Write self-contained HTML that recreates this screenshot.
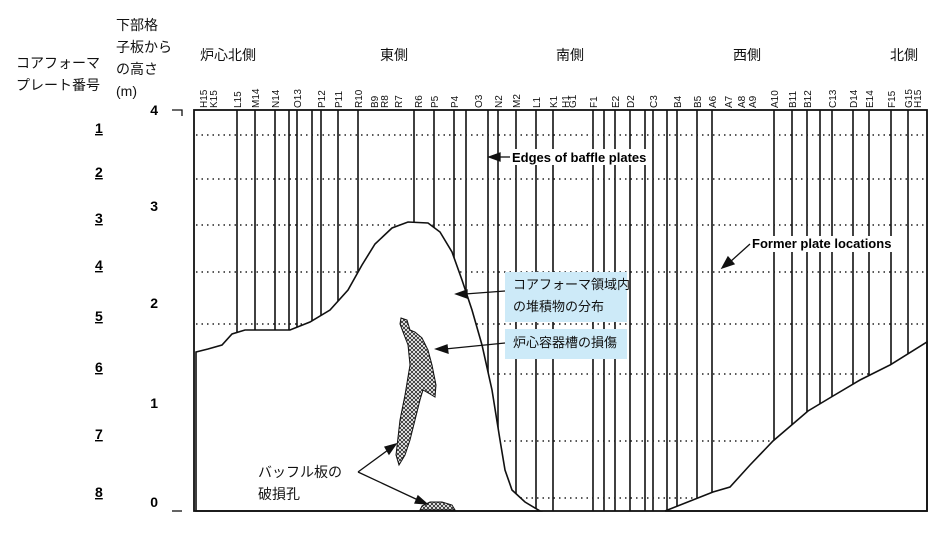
<!DOCTYPE html>
<html><head><meta charset="utf-8"><style>
body{margin:0;background:#fff;width:949px;height:540px;overflow:hidden;font-family:"Liberation Sans","Noto Sans CJK JP",sans-serif;}
.t{position:absolute;font-size:14px;line-height:22px;color:#111;white-space:nowrap;z-index:2}
.box{position:absolute;background:#cdeaf8;font-size:13px;line-height:22px;padding:0 0 0 8px;color:#111;white-space:nowrap;z-index:2}
svg{z-index:1}
</style></head><body>
<svg width="949" height="540" style="position:absolute;left:0;top:0" id="s" font-family="Liberation Sans, sans-serif">
<defs><pattern id="h" width="4" height="4" patternUnits="userSpaceOnUse"><path d="M0 0L4 4M4 0L0 4" stroke="#222" stroke-width="0.8"/></pattern></defs>
<g id="lines" stroke="#111" stroke-width="1.6"></g>
<g id="dots" stroke="#222" stroke-width="1.5" stroke-dasharray="1.5 4"></g>
<path d="M196 352 L208 349 L222 345 L232 334 L245 330 L290 330 L310 322 L330 310 L348 290 L362 265 L375 244 L392 228 L408 222 L428 223 L440 232 L452 252 L462 280 L472 310 L482 345 L492 390 L500 440 L505 470 L512 490 L525 502 L540 511 L196 511 Z" fill="#fff" stroke="#111" stroke-width="1.6"/>
<path d="M665 511 L713 492 L730 487 L750 465 L773 441 L808 411 L833 396 L860 380 L890 365 L927 342 L927 511 Z" fill="#fff" stroke="#111" stroke-width="1.6"/>
<path d="M401 318 L407 320 L410 330 L415 332 L422 338 L428 350 L432 365 L436 385 L435 397 L430 394 L423 390 L420 400 L415 420 L410 440 L405 455 L399 465 L396 455 L400 420 L405 395 L410 365 L408 345 L403 332 L400 324 Z" fill="url(#h)" stroke="#111" stroke-width="1"/>
<path d="M422 506 L430 502 L442 502 L452 505 L455 510 L420 510 Z" fill="url(#h)" stroke="#111" stroke-width="1"/>
<rect x="194" y="110" width="733" height="401" fill="none" stroke="#111" stroke-width="1.8"/>
<rect x="508" y="149" width="142" height="16" fill="#fff"/>
<rect x="749" y="236" width="145" height="16" fill="#fff"/>
<g stroke="#111" stroke-width="1.3" fill="#111">
<line x1="510" y1="157" x2="498" y2="157"/><polygon points="489,157 500,153 500,161"/>
<line x1="750" y1="244" x2="730" y2="262"/><polygon points="722,268 728,257 734,264"/>
<line x1="505" y1="291" x2="465" y2="294"/><polygon points="456,294 467,290 467,298"/>
<line x1="505" y1="343" x2="445" y2="349"/><polygon points="436,349 447,345 448,353"/>
<line x1="358" y1="472" x2="388" y2="450"/><polygon points="396,444 389,454 385,447"/>
<line x1="358" y1="472" x2="418" y2="500"/><polygon points="427,504 415,503 418,496"/>
</g>
<text x="512" y="162" font-size="13" font-weight="bold">Edges of baffle plates</text>
<text x="752" y="248" font-size="13" font-weight="bold">Former plate locations</text>
<g font-size="14" font-weight="bold" text-anchor="end">
<text x="158" y="115">4</text><text x="158" y="211">3</text><text x="158" y="308">2</text><text x="158" y="408">1</text><text x="158" y="507">0</text></g>
<g font-size="14" font-weight="bold" text-decoration="underline">
<text x="95" y="133">1</text><text x="95" y="177">2</text><text x="95" y="223">3</text><text x="95" y="270">4</text><text x="95" y="321">5</text><text x="95" y="372">6</text><text x="95" y="439">7</text><text x="95" y="497">8</text></g>
<g stroke="#111" stroke-width="1.3" fill="none">
<path d="M172 110 H182 V116"/><path d="M172 511 H182"/></g>
<g id="labs" font-size="10" fill="#111"></g>
</svg>
<div class="t" style="left:16px;top:52px">コアフォーマ<br>プレート番号</div>
<div class="t" style="left:116px;top:14px">下部格<br>子板から<br>の高さ<br>(m)</div>
<div class="t" style="left:200px;top:44px">炉心北側</div>
<div class="t" style="left:380px;top:44px">東側</div>
<div class="t" style="left:556px;top:44px">南側</div>
<div class="t" style="left:733px;top:44px">西側</div>
<div class="t" style="left:890px;top:44px">北側</div>
<div class="box" style="left:505px;top:272px;width:114px;padding-top:2px;height:48px">コアフォーマ領域内<br>の堆積物の分布</div>
<div class="box" style="left:505px;top:329px;width:114px;height:30px;line-height:28px">炉心容器槽の損傷</div>
<div class="t" style="left:258px;top:461px">バッフル板の<br>破損孔</div>
<script>
var L=[["H15",203],["K15",213],["L15",237],["M14",255],["N14",275],["O13",297],["P12",321],["P11",338],["R10",358],["B9",374],["R8",384],["R7",398],["R6",418],["P5",434],["P4",454],["O3",478],["N2",498],["M2",516],["L1",536],["K1",553],["H1",565],["G1",572],["F1",593],["E2",615],["D2",630],["C3",653],["B4",677],["B5",697],["A6",712],["A7",728],["A8",741],["A9",752],["A10",774],["B11",792],["B12",807],["C13",832],["D14",853],["E14",869],["F15",891],["G15",908],["H15",917]];
var ns="http://www.w3.org/2000/svg",g=document.getElementById("lines"),lb=document.getElementById("labs");
L.forEach(function(p){var t=document.createElementNS(ns,"text");t.setAttribute("transform","translate("+(p[1]+4)+",108) rotate(-90)");t.textContent=p[0];lb.appendChild(t);});
var xs=[237,255,275,289,297,312,321,338,358,414,434,454,466,488,498,516,536,553,593,604,615,630,645,653,667,677,697,712,774,792,807,820,832,853,869,891,908];
xs.forEach(function(x){var l=document.createElementNS(ns,"line");l.setAttribute("x1",x);l.setAttribute("x2",x);l.setAttribute("y1",110);l.setAttribute("y2",511);g.appendChild(l);});
var d=document.getElementById("dots");[135,179,225,272,324,374,441,498].forEach(function(y){var l=document.createElementNS(ns,"line");l.setAttribute("x1",196);l.setAttribute("x2",927);l.setAttribute("y1",y);l.setAttribute("y2",y);d.appendChild(l);});
</script>
</body></html>
